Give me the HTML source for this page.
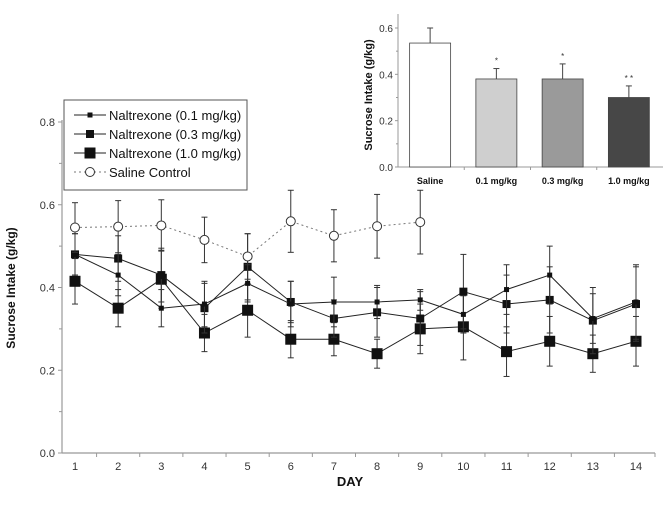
<!DOCTYPE html>
<html><head><meta charset="utf-8">
<style>
body{margin:0;background:#fff;}
svg{display:block;font-family:"Liberation Sans",Arial,sans-serif;}
</style></head>
<body>
<svg id="chart" width="667" height="517" viewBox="0 0 667 517" xmlns="http://www.w3.org/2000/svg"></svg>
<script>
const days = [1,2,3,4,5,6,7,8,9,10,11,12,13,14];
const yTicks = [0.0,0.2,0.4,0.6,0.8];
const salineMean = [0.545,0.547,0.55,0.515,0.475,0.56,0.525,0.548,0.558];
const salineErr  = [0.06,0.063,0.062,0.055,0.055,0.075,0.063,0.077,0.077];
const nal01Mean = [0.48,0.43,0.35,0.36,0.41,0.36,0.365,0.365,0.37,0.335,0.395,0.43,0.325,0.365];
const nal01Err  = [0.05,0.05,0.045,0.055,0.045,0.055,0.06,0.04,0.025,0.045,0.06,0.07,0.06,0.09];
const nal03Mean = [0.48,0.47,0.43,0.35,0.45,0.365,0.325,0.34,0.325,0.39,0.36,0.37,0.32,0.36];
const nal03Err  = [0.05,0.055,0.065,0.06,0.08,0.05,0.045,0.06,0.065,0.09,0.07,0.08,0.08,0.09];
const nal10Mean = [0.415,0.35,0.42,0.29,0.345,0.275,0.275,0.24,0.3,0.305,0.245,0.27,0.24,0.27];
const nal10Err  = [0.055,0.045,0.07,0.045,0.065,0.045,0.04,0.035,0.06,0.08,0.06,0.06,0.045,0.06];
const insetCats = ["Saline","0.1 mg/kg","0.3 mg/kg","1.0 mg/kg"];
const insetVals = [0.535,0.38,0.38,0.30];
const insetErrs = [0.065,0.045,0.065,0.05];
const insetSig = ["","*","*","* *"];
const insetTicks = [0.0,0.2,0.4,0.6];

const NS="http://www.w3.org/2000/svg";
const svg=document.getElementById('chart');
function mk(tag,attrs,parent){const e=document.createElementNS(NS,tag);for(const k in attrs)e.setAttribute(k,attrs[k]);(parent||svg).appendChild(e);return e;}

const X0=62,X1=655,Y0=453,Y1=122;
const xDay=d=>75+(d-1)*(636-75)/13;
const yVal=v=>Y0-(v/0.8)*(Y0-Y1);

const ya=mk('line',{x1:X0,y1:Y1-2,x2:X0,y2:Y0,stroke:'#999','stroke-width':1.2});


const xa=mk('line',{x1:X0,y1:Y0,x2:X1,y2:Y0,stroke:'#999','stroke-width':1.2});


for(let i=0;i<yTicks.length;i++){
  const v=yTicks[i];
  mk('line',{x1:X0-4,y1:yVal(v),x2:X0,y2:yVal(v),stroke:'#999'});
  if(i<yTicks.length-1) mk('line',{x1:X0-3,y1:yVal(v+0.1),x2:X0,y2:yVal(v+0.1),stroke:'#999'});
  const t=mk('text',{x:X0-7,y:yVal(v)+4,'text-anchor':'end','font-size':11,fill:'#333'});
  t.textContent=v.toFixed(1);
  
  
}
for(let i=0;i<days.length;i++){
  const xb=xDay(days[i])-(636-75)/26;
  mk('line',{x1:xb,y1:Y0,x2:xb,y2:Y0+4,stroke:'#999'});
  const t=mk('text',{x:xDay(days[i]),y:Y0+17,'text-anchor':'middle','font-size':11,fill:'#333'});
  t.textContent=days[i];
  
  
}
mk('line',{x1:X1,y1:Y0,x2:X1,y2:Y0+4,stroke:'#999'});
const xt=mk('text',{x:350,y:486,'text-anchor':'middle','font-size':13,'font-weight':'bold',fill:'#111'});
xt.textContent='DAY';


const yt=mk('text',{x:0,y:0,transform:'translate(15,288) rotate(-90)','text-anchor':'middle','font-size':12,'font-weight':'bold',fill:'#111'});
yt.textContent='Sucrose Intake (g/kg)';



function series(mean,err,name,opts){
  const g=mk('g',{});
  
  
  for(let i=0;i<mean.length;i++){
    const x=xDay(days[i]);
    const a=yVal(mean[i]+err[i]), b=yVal(mean[i]-err[i]);
    mk('line',{x1:x,y1:a,x2:x,y2:b,stroke:'#333','stroke-width':1},g);
    mk('line',{x1:x-3,y1:a,x2:x+3,y2:a,stroke:'#333'},g);
    mk('line',{x1:x-3,y1:b,x2:x+3,y2:b,stroke:'#333'},g);
  }
  const pts=mean.map((v,i)=>xDay(days[i])+','+yVal(v)).join(' ');
  mk('polyline',{points:pts,fill:'none',stroke:opts.dash?'#777':'#222','stroke-width':1,'stroke-dasharray':opts.dash||'none'},g);
  for(let i=0;i<mean.length;i++){
    const x=xDay(days[i]),y=yVal(mean[i]);
    let m;
    if(opts.circle) m=mk('circle',{cx:x,cy:y,r:4.5,fill:'#fff',stroke:'#333'},g);
    else m=mk('rect',{x:x-opts.s/2,y:y-opts.s/2,width:opts.s,height:opts.s,fill:'#111'},g);
    
    
  }
}
series(nal10Mean,nal10Err,'series-naltrexone-1-0',{s:11});
series(nal03Mean,nal03Err,'series-naltrexone-0-3',{s:8});
series(nal01Mean,nal01Err,'series-naltrexone-0-1',{s:5});
series(salineMean,salineErr,'series-saline-control',{circle:true,dash:'2,3'});

const lg=mk('g',{});


mk('rect',{x:64,y:100,width:183,height:90,fill:'#fff',stroke:'#555'},lg);
const legItems=[['Naltrexone (0.1 mg/kg)',5],['Naltrexone (0.3 mg/kg)',8],['Naltrexone (1.0 mg/kg)',11],['Saline Control',0]];
legItems.forEach((it,i)=>{
  const y=115+i*19;
  const e=mk('g',{},lg);
  
  
  if(it[1]){
    mk('line',{x1:74,y1:y,x2:106,y2:y,stroke:'#222'},e);
    mk('rect',{x:90-it[1]/2,y:y-it[1]/2,width:it[1],height:it[1],fill:'#111'},e);
  }else{
    mk('line',{x1:74,y1:y,x2:106,y2:y,stroke:'#777','stroke-dasharray':'2,3'},e);
    mk('circle',{cx:90,cy:y,r:4.5,fill:'#fff',stroke:'#333'},e);
  }
  const t=mk('text',{x:109,y:y+5,'font-size':13,fill:'#111'},e);
  t.textContent=it[0];
});

const IX0=398,IX1=663,IY0=167,IY1=14;
const iy=v=>IY0-(v/0.6)*(IY0-28);
const ig=mk('g',{});


mk('line',{x1:IX0,y1:IY1,x2:IX0,y2:IY0,stroke:'#999'},ig);
mk('line',{x1:IX0,y1:IY0,x2:IX1,y2:IY0,stroke:'#999'},ig);
for(let i=0;i<insetTicks.length;i++){
  const v=insetTicks[i];
  mk('line',{x1:IX0-3,y1:iy(v),x2:IX0,y2:iy(v),stroke:'#999'},ig);
  if(i<insetTicks.length-1) mk('line',{x1:IX0-2,y1:iy(v+0.1),x2:IX0,y2:iy(v+0.1),stroke:'#999'},ig);
  const t=mk('text',{x:IX0-5,y:iy(v)+4,'text-anchor':'end','font-size':10,fill:'#333'},ig);
  t.textContent=v.toFixed(1);
}
const ia=mk('text',{x:0,y:0,transform:'translate(372,95) rotate(-90)','text-anchor':'middle','font-size':11,'font-weight':'bold',fill:'#111'},ig);
ia.textContent='Sucrose Intake (g/kg)';


const fills=['#fff','#cfcfcf','#9a9a9a','#474747'];
const slot=(IX1-IX0)/4;
for(let i=0;i<insetCats.length;i++){
  const cx=IX0+slot*(i+0.5)-1, w=41;
  const top=iy(insetVals[i]), et=iy(insetVals[i]+insetErrs[i]);
  mk('line',{x1:cx,y1:et,x2:cx,y2:top,stroke:'#444'},ig);
  mk('line',{x1:cx-3,y1:et,x2:cx+3,y2:et,stroke:'#444'},ig);
  const r=mk('rect',{x:cx-w/2,y:top,width:w,height:IY0-top,fill:fills[i],stroke:'#444','stroke-width':0.8},ig);
  
  
  if(i>0) mk('line',{x1:IX0+slot*i,y1:IY0,x2:IX0+slot*i,y2:IY0+3,stroke:'#999'},ig);
  const s=mk('text',{x:cx,y:et-5,'text-anchor':'middle','font-size':8,fill:'#333'},ig);
  s.textContent=insetSig[i];
  const t=mk('text',{x:cx,y:184,'text-anchor':'middle','font-size':9,'font-weight':'bold',fill:'#111'},ig);
  t.textContent=insetCats[i];
  
  
}
</script>
</body></html>
